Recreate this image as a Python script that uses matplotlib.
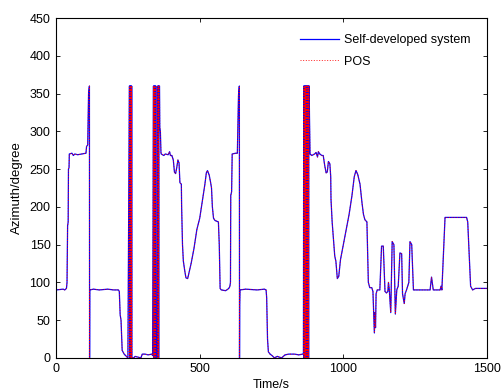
import matplotlib
matplotlib.use("Agg")
import matplotlib.pyplot as plt

plt.rcParams['font.family'] = ['Liberation Sans', 'DejaVu Sans']

# breakpoints (time in s, azimuth in degree)
time_s = [0, 25, 30, 36, 38, 40, 42, 43, 45, 46, 55, 60, 65, 75, 104, 106, 110, 113, 116, 116.5, 117,
          130, 150, 180, 200, 217, 220, 223, 226, 230, 237, 245, 250,
          255, 256, 257, 258, 259, 260, 261, 262, 263, 264,
          270, 275, 285, 295, 300, 310, 320, 333, 336,
          339, 340, 341, 342, 343, 344, 345, 346, 347, 348,
          353, 354, 355, 356, 357, 358, 360, 361, 363, 365, 366,
          375, 380, 390, 395, 398, 403, 408, 412, 416, 420, 424, 428, 431, 436, 437, 440, 443, 448, 452, 458, 461,
          470, 480, 490, 500, 510, 518, 523, 527, 533, 538, 541, 544, 548, 553, 565, 568, 571, 575, 590, 598,
          603, 605, 607, 608, 611, 613, 625, 631, 633, 635, 638, 638.5, 639, 640,
          660, 700, 725, 731, 733, 736, 739, 745, 752, 760, 770, 785, 797, 810, 830, 845, 858, 861,
          862, 863, 864, 865, 866, 867, 868, 869, 870, 871, 872, 873, 874, 875, 876, 877, 878, 879, 880, 881,
          882, 884, 890, 900, 905, 910, 913, 918, 925, 930, 935, 940, 944, 948, 953, 956, 957, 961, 965, 970,
          974, 979, 984, 990, 1000, 1010, 1020, 1030, 1038, 1044, 1050, 1055, 1058, 1065, 1070, 1075, 1082,
          1087, 1092, 1099, 1103, 1106, 1108, 1110, 1112, 1114, 1118, 1127, 1133, 1139, 1145, 1150, 1155,
          1157, 1160, 1165, 1167, 1170, 1176, 1181, 1186, 1191, 1197, 1203, 1206, 1212, 1215, 1220, 1228,
          1232, 1238, 1244, 1302, 1305, 1307, 1313, 1337, 1340, 1343, 1354, 1429, 1433, 1443, 1450, 1460, 1500]

azimuth_sys = [90, 91, 90, 92, 100, 175, 180, 250, 252, 270, 271, 268, 270, 269, 271, 280, 282, 350, 360, 0, 90,
               91, 90, 91, 90, 90, 88, 57, 50, 10, 5, 2, 0,
               360, 0, 360, 0, 360, 0, 360, 0, 360, 0,
               0, 2, 1, 0, 5, 5, 4, 5, 3,
               360, 0, 360, 0, 360, 0, 360, 0, 360, 0,
               0, 360, 0, 360, 0, 360, 360, 305, 300, 272, 270,
               268, 270, 269, 273, 268, 268, 262, 246, 244, 252, 262, 258, 232, 230, 200, 150, 128, 115, 106, 105, 110,
               125, 145, 170, 185, 210, 230, 245, 248, 242, 232, 225, 200, 185, 182, 180, 150, 92, 90, 89, 91,
               93, 95, 100, 215, 220, 270, 271, 271, 310, 348, 360, 0, 70, 90,
               91, 90, 91, 90, 80, 25, 8, 5, 3, 0, 2, 0, 4, 5, 5, 4, 5, 5,
               360, 0, 360, 0, 360, 0, 360, 0, 360, 0, 360, 0, 360, 0, 360, 0, 360, 0, 360, 360,
               322, 270, 268, 270, 272, 266, 273, 270, 268, 268, 255, 245, 246, 260, 257, 240, 210, 180, 160, 135,
               128, 105, 108, 130, 150, 170, 190, 215, 240, 248, 243, 235, 230, 205, 190, 183, 180,
               100, 93, 93, 88, 55, 33, 60, 40, 85, 90, 90, 148, 148, 88, 86, 88,
               100, 90, 60, 100, 154, 150, 58, 90, 95, 139, 138, 85, 72, 85, 90, 100,
               154, 150, 90, 90, 100, 107, 90, 90, 95, 90, 186, 186, 180, 95, 90, 92, 92]

# POS reference follows the same track
time_pos = list(time_s)
azimuth_pos = list(azimuth_sys)

x_ticks = [0, 500, 1000, 1500]
y_ticks = [0, 50, 100, 150, 200, 250, 300, 350, 400, 450]

fig = plt.figure(figsize=(5.01, 3.92), dpi=100)
ax = fig.add_axes([0.112, 0.087, 0.86, 0.867])

ax.plot(time_s, azimuth_sys, color='blue', lw=0.9, label='Self-developed system')
ax.plot(time_pos, azimuth_pos, color='red', lw=0.6, linestyle=(0, (1.2, 2.0)), label='POS')

ax.set_xlim(0, 1500)
ax.set_ylim(0, 450)
ax.set_xticks(x_ticks)
ax.set_yticks(y_ticks)
ax.tick_params(direction='in', top=True, right=True, labelsize=9, length=3, width=0.6, pad=4)
for s in ax.spines.values():
    s.set_linewidth(0.8)

ax.set_xlabel('Time/s', fontsize=9, labelpad=2.5)
ax.set_ylabel('Azimuth/degree', fontsize=9.5, labelpad=5)

ax.legend(loc='upper right', frameon=False, fontsize=9, handlelength=3.1, handletextpad=0.4,
          borderaxespad=0.9, labelspacing=0.75)

fig.savefig('out.png', dpi=100)
